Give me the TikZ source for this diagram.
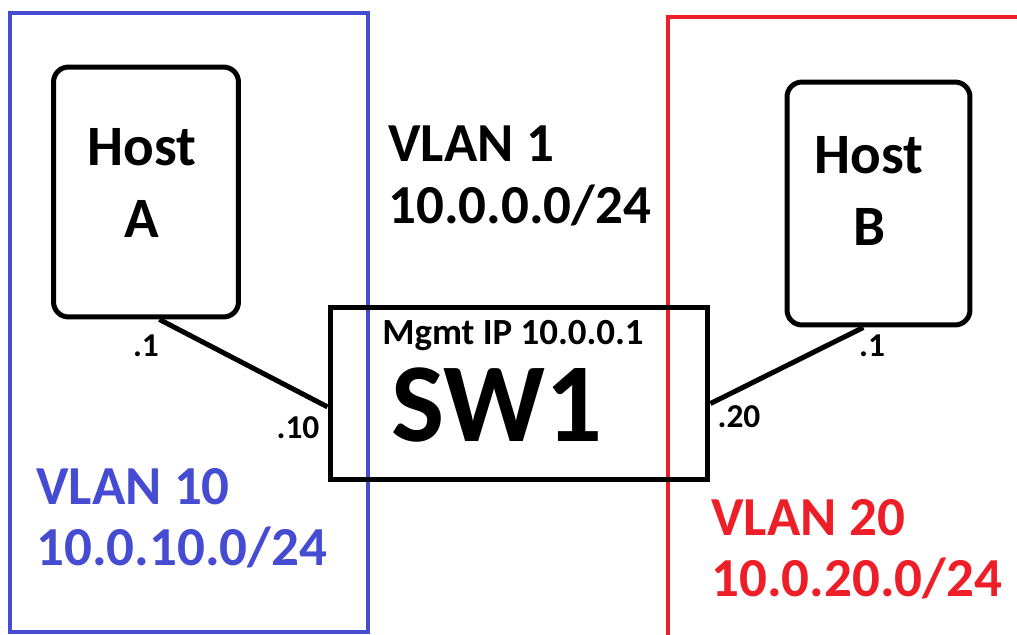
\documentclass[tikz,border=0pt]{standalone}
\usepackage{fontspec}
\setmainfont{Carlito}
\definecolor{vlanblue}{RGB}{70,76,210}
\definecolor{vlanred}{RGB}{237,30,40}
\begin{document}
\begin{tikzpicture}[x=0.02cm, y=-0.02cm, line width=0.1cm,
    host node/.style={draw, rounded corners=0.3cm, inner sep=0, minimum width=3.7cm, minimum height=5cm},
    host text/.style={align=center, font=\bfseries\fontsize{32.5}{41}\selectfont},
    switch node/.style={draw, inner sep=0, minimum width=7.56cm, minimum height=3.46cm},
    vlan text/.style={anchor=west, align=left, font=\bfseries\fontsize{31.3}{35}\selectfont},
    port/.style={font=\bfseries\fontsize{19}{20}\selectfont}]
    \useasboundingbox (0,0) rectangle (1017,635);

    % vlan areas
    \draw[vlanblue, line width=0.08cm] (10,13) rectangle (368,632);
    \draw[vlanred, line width=0.08cm] (668,640) -- (668,17) -- (1025,17);

    \node[host node] at (146,192) (hosta) {};
    \node[host text] at (142,183) (hostatext) {Host\\A};
    \node[host node, minimum width=3.66cm, minimum height=4.86cm] at (878.5,203.5) (hostb) {};
    \node[host text] at (869,191) (hostbtext) {Host\\B};
    \node[switch node] at (519,393.5) (sw) {};
    \node[font=\bfseries\fontsize{21}{24}\selectfont] at (513,336) (mgmt) {Mgmt IP 10.0.0.1};
    \node[font=\bfseries\fontsize{64}{70}\selectfont] at (497,405) (swname) {SW1};

    \draw (hosta.-84) -- (sw.184);
    \draw (hostb.-97) -- (sw.-3);

    \node[port] at (146,346) (pa) {.1};
    \node[port] at (298,428) (pswa) {.10};
    \node[port] at (739,417) (pswb) {.20};
    \node[port] at (872,346) (pb) {.1};

    \node[vlan text] at (380,176) (vlan1) {VLAN 1\\10.0.0.0/24};
    \node[vlan text, text=vlanblue] at (28,518) (vlan10) {VLAN 10\\10.0.10.0/24};
    \node[vlan text, text=vlanred] at (703,549) (vlan20) {VLAN 20\\10.0.20.0/24};
\end{tikzpicture}
\end{document}
